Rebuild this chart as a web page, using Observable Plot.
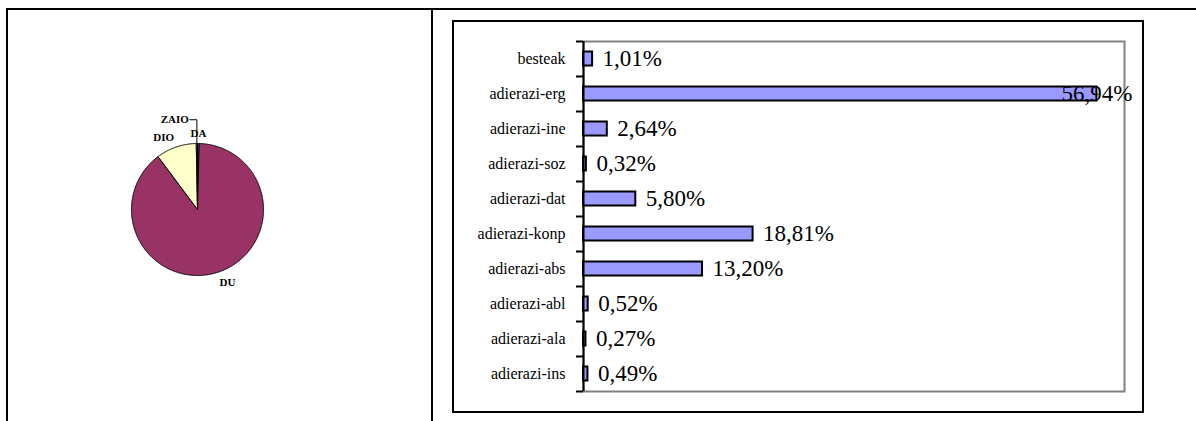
<!DOCTYPE html>
<html>
<head>
<meta charset="utf-8">
<script src="https://cdn.jsdelivr.net/npm/d3@7"></script>
<script src="https://cdn.jsdelivr.net/npm/@observablehq/plot@0.6"></script>
<style>
  html, body { margin: 0; padding: 0; background: #fff; }
  #page { position: relative; width: 1196px; height: 421px; overflow: hidden; background: #fff; }
  .line { position: absolute; background: #000; }
  #box { position: absolute; left: 452px; top: 20px; width: 688px; height: 389px; border: 2px solid #000; }
  #bar svg, #pie svg { position: absolute; left: 0; top: 0; }
  #pie { position: absolute; left: 77px; top: 89px; width: 240px; height: 240px; }
  svg text { font-family: "Liberation Serif", "Times New Roman", serif; }
</style>
</head>
<body>
<div id="page">
  <div class="line" style="left:6px;top:8px;width:1190px;height:2px"></div>
  <div class="line" style="left:6px;top:8px;width:2px;height:413px"></div>
  <div class="line" style="left:431px;top:8px;width:2px;height:413px"></div>
  <div id="pie"></div>
  <div id="box"><div id="bar"></div></div>
</div>
<script>
// ---- Bar chart data ----
const categories = ["besteak", "adierazi-erg", "adierazi-ine", "adierazi-soz", "adierazi-dat",
  "adierazi-konp", "adierazi-abs", "adierazi-abl", "adierazi-ala", "adierazi-ins"];
const percentages = [1.01, 56.94, 2.64, 0.32, 5.80, 18.81, 13.20, 0.52, 0.27, 0.49];
const xMax = 60;

// ---- Pie chart data ----
const pieNames = ["DA", "DU", "DIO", "ZAIO"];
const pieValues = [0.4, 89.4, 9.9, 0.3];
const pieColors = ["#6666FF", "#993366", "#FFFFCC", "#CCFFFF"];
const calloutNames = ["ZAIO"];

const serif = "Liberation Serif";
const fmt = v => v.toFixed(2).replace(".", ",") + "%";

// ---------- Bar chart ----------
const rows = categories.map((c, i) => ({cat: c, value: percentages[i]}));
const W = 688, H = 389, mt = 19, mb = 20, ml = 129, mr = 18;
const halfStep = (H - mt - mb) / categories.length / 2;
const isInside = d => d.value / xMax > 0.9;

const bar = Plot.plot({
  width: W, height: H,
  marginTop: mt, marginBottom: mb, marginLeft: ml, marginRight: mr,
  style: {fontFamily: serif, fontSize: "16px", background: "transparent", color: "#000", overflow: "visible"},
  x: {domain: [0, xMax], axis: null},
  y: {domain: categories, paddingInner: 0.6, paddingOuter: 0.3, round: false},
  marks: [
    Plot.frame({stroke: "#808080", strokeWidth: 2}),
    Plot.barX(rows, {x: "value", y: "cat", fill: "#9999FF", stroke: "#000", strokeWidth: 2}),
    Plot.ruleX([0], {stroke: "#000", strokeWidth: 2}),
    Plot.ruleY(categories, {y: d => d, x1: 0, x2: 0, insetLeft: -7, dy: -halfStep, stroke: "#000", strokeWidth: 2}),
    Plot.ruleY(categories.slice(-1), {y: d => d, x1: 0, x2: 0, insetLeft: -7, dy: halfStep, stroke: "#000", strokeWidth: 2}),
    Plot.axisY({tickSize: 0, tickPadding: 18, fontSize: 16, fill: "#000", label: null, fontFamily: serif}),
    Plot.text(rows.filter(d => !isInside(d)), {x: "value", y: "cat", text: d => fmt(d.value), dx: 10, textAnchor: "start", fontSize: 23, fill: "#000", fontFamily: serif}),
    Plot.text(rows.filter(isInside), {x: "value", y: "cat", text: d => fmt(d.value), textAnchor: "middle", fontSize: 23, fill: "#000", fontFamily: serif})
  ]
});
document.getElementById("bar").appendChild(bar);

// ---------- Pie chart ----------
const total = d3.sum(pieValues);
let acc = 0;
const slices = pieNames.map((n, i) => {
  const a0 = acc / total * 2 * Math.PI;
  acc += pieValues[i];
  const a1 = acc / total * 2 * Math.PI;
  return {name: n, a0, a1, mid: (a0 + a1) / 2};
});
const piePoints = [];
for (const s of slices) {
  const steps = Math.max(2, Math.ceil((s.a1 - s.a0) / (Math.PI / 360)));
  piePoints.push({name: s.name, x: 0, y: 0});
  for (let k = 0; k <= steps; k++) {
    const a = s.a0 + (s.a1 - s.a0) * k / steps;
    piePoints.push({name: s.name, x: Math.sin(a), y: Math.cos(a)});
  }
  piePoints.push({name: s.name, x: 0, y: 0});
}
const R = 66, S = 240, h = S / 2 / R;
const labelR = 1.1, calloutR = 1.36, calloutArm = 7 / R;
const pieMarks = [
  Plot.line(piePoints, {x: "x", y: "y", z: "name", fill: "name", stroke: "#000", strokeWidth: 1, strokeLinejoin: "miter"})
];
for (const s of slices) {
  const sx = Math.sin(s.mid), cy = Math.cos(s.mid);
  const common = {fontSize: 11, fontWeight: "bold", fill: "#000", fontFamily: serif};
  if (calloutNames.includes(s.name)) {
    const lx = sx - calloutArm, ly = cy * calloutR;
    pieMarks.push(Plot.line([[lx, ly], [sx, ly], [sx, cy]], {stroke: "#000", strokeWidth: 1}));
    pieMarks.push(Plot.text([s], {x: () => lx, y: () => ly, text: "name", textAnchor: "end", lineAnchor: "middle", dx: -1, ...common}));
  } else {
    const anchor = Math.abs(sx) < 0.2 ? "middle" : (sx > 0 ? "start" : "end");
    const lineAnchor = cy > 0 ? "bottom" : "top";
    pieMarks.push(Plot.text([s], {x: () => sx * labelR, y: () => cy * labelR, text: "name", textAnchor: anchor, lineAnchor, ...common}));
  }
}
const pie = Plot.plot({
  width: S, height: S, margin: 0,
  style: {background: "transparent", overflow: "visible", fontFamily: serif},
  x: {domain: [-h, h], axis: null},
  y: {domain: [-h, h], axis: null},
  color: {domain: pieNames, range: pieColors},
  marks: pieMarks
});
document.getElementById("pie").appendChild(pie);
</script>
</body>
</html>
